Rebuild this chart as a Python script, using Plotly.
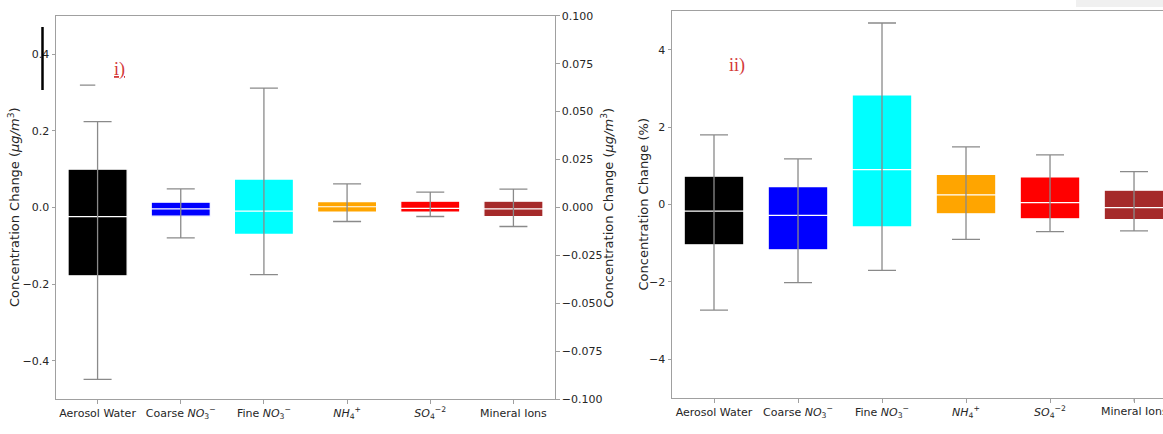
import plotly.graph_objects as go

# ---------------- data ----------------
categories = ["Aerosol Water", "Coarse <i>NO</i><sub>3</sub><sup>−</sup>", "Fine <i>NO</i><sub>3</sub><sup>−</sup>",
              "<i>NH</i><sub>4</sub><sup>+</sup>", "<i>SO</i><sub>4</sub><sup>−2</sup>", "Mineral Ions"]
colors = ["black", "blue", "cyan", "orange", "red", "brown"]

# panel i) absolute change (µg/m3); Aerosol Water on left axis, others on right axis
abs_q1 = [-0.178, -0.0045, -0.0140, -0.0024, -0.0024, -0.0047]
abs_med = [-0.024, -0.0007, -0.0019, 0.0004, -0.0005, -0.0007]
abs_q3 = [0.100, 0.0028, 0.0148, 0.0031, 0.0033, 0.0033]
abs_low = [-0.448, -0.0158, -0.0350, -0.0073, -0.0047, -0.0099]
abs_high = [0.224, 0.0097, 0.0622, 0.0123, 0.0080, 0.0096]
abs_fliers_aw = [0.319]

# panel ii) percent change
pct_q1 = [-1.04, -1.17, -0.58, -0.24, -0.37, -0.39]
pct_med = [-0.17, -0.28, 0.90, 0.25, 0.05, -0.08]
pct_q3 = [0.73, 0.46, 2.83, 0.78, 0.71, 0.37]
pct_low = [-2.73, -2.02, -1.70, -0.90, -0.70, -0.68]
pct_high = [1.80, 1.18, 4.69, 1.49, 1.28, 0.85]

left_ticks = [-0.4, -0.2, 0.0, 0.2, 0.4]
right_ticks = [-0.1, -0.075, -0.05, -0.025, 0.0, 0.025, 0.05, 0.075, 0.1]
pct_ticks = [-4, -2, 0, 2, 4]

ylabel_abs = "Concentration Change (<i>μg/m</i><sup>3</sup>)"
ylabel_pct = "Concentration Change (%)"

# ---------------- style ----------------
W, H = 1163, 434
AX = "#a0a0a0"
WH = "#8a8a8a"
FONT = "DejaVu Sans"
TXT = "#262626"
BOXW = 0.71
RED = "#d43a3a"

XDOM1 = [56 / W, 555 / W]
XDOM2 = [672 / W, 1.0]
XR1 = [-0.5, 5.5]
XR2 = [-0.5, 5.345]
YDOM1 = [1 - 399.3 / H, 1 - 15.7 / H]
YDOM2 = [1 - 398 / H, 1 - 11 / H]

fig = go.Figure()


def add_box(i, q1, med, q3, lo, hi, xa, ya):
    fig.add_trace(go.Scatter(
        x=[i], y=[med], mode="markers", xaxis=xa, yaxis=ya,
        marker=dict(size=1, color="rgba(0,0,0,0)"), hoverinfo="skip",
        error_y=dict(type="data", symmetric=False, array=[hi - med], arrayminus=[med - lo],
                     color=WH, thickness=1.3, width=14)))
    fig.add_trace(go.Box(
        x=[i], q1=[q1], median=[med], q3=[q3], lowerfence=[q1], upperfence=[q3],
        xaxis=xa, yaxis=ya, width=BOXW, whiskerwidth=0,
        fillcolor=colors[i], line=dict(color="white", width=1.2), hoverinfo="skip"))


for i in range(len(categories)):
    ya = "y" if i == 0 else "y2"
    add_box(i, abs_q1[i], abs_med[i], abs_q3[i], abs_low[i], abs_high[i], "x", ya)
    add_box(i, pct_q1[i], pct_med[i], pct_q3[i], pct_low[i], pct_high[i], "x2", "y3")

fig.add_trace(go.Scatter(
    x=[-0.12] * len(abs_fliers_aw), y=abs_fliers_aw, mode="markers", xaxis="x", yaxis="y",
    marker=dict(symbol="line-ew", size=11, line=dict(color=WH, width=1.3)), hoverinfo="skip"))

tickfont = dict(family=FONT, size=11, color=TXT)
common_x = dict(tickmode="array", tickvals=list(range(6)), ticktext=categories,
                ticks="outside", ticklen=3.5, tickcolor=AX, showline=True, linecolor=AX,
                linewidth=1, showgrid=False, zeroline=False, tickfont=tickfont, automargin=False)
common_y = dict(ticks="outside", ticklen=3.5, tickcolor=AX, showline=True, linecolor=AX,
                linewidth=1, showgrid=False, zeroline=False, tickfont=tickfont, automargin=False)


def x2_paper(v):
    return XDOM2[0] + (v - XR2[0]) / (XR2[1] - XR2[0]) * (XDOM2[1] - XDOM2[0])


# last category of panel ii lies beyond the visible range edge: label it in paper coords
last_x = x2_paper(len(categories) - 1)
ymid1 = (YDOM1[0] + YDOM1[1]) / 2
ymid2 = (YDOM2[0] + YDOM2[1]) / 2
title_font = dict(family=FONT, size=13, color=TXT)

fig.update_layout(
    width=W, height=H, margin=dict(l=0, r=0, t=0, b=0),
    paper_bgcolor="white", plot_bgcolor="white", showlegend=False,
    font=dict(family=FONT, size=11, color=TXT),
    xaxis=dict(domain=XDOM1, range=XR1, mirror=True, anchor="y", **common_x),
    yaxis=dict(domain=YDOM1, range=[-0.5, 0.5], anchor="x", tickvals=left_ticks,
               ticktext=[f"{v:.1f}".replace("-", "−") for v in left_ticks], **common_y),
    yaxis2=dict(range=[-0.1, 0.1], anchor="x", overlaying="y", side="right", tickvals=right_ticks,
                ticktext=[f"{v:.3f}".replace("-", "−") for v in right_ticks], **common_y),
    xaxis2=dict(domain=XDOM2, range=XR2, mirror=True, anchor="y3", **common_x),
    yaxis3=dict(domain=YDOM2, range=[-5, 5], anchor="x2", tickvals=pct_ticks,
                ticktext=[str(v).replace("-", "−") for v in pct_ticks], **common_y),
    annotations=[
        dict(text=ylabel_abs, xref="paper", yref="paper", x=14.5 / W, y=ymid1, textangle=-90,
             showarrow=False, font=title_font, xanchor="center", yanchor="middle"),
        dict(text=ylabel_abs, xref="paper", yref="paper", x=608 / W, y=ymid1, textangle=-90,
             showarrow=False, font=title_font, xanchor="center", yanchor="middle"),
        dict(text=ylabel_pct, xref="paper", yref="paper", x=643 / W, y=ymid2, textangle=-90,
             showarrow=False, font=title_font, xanchor="center", yanchor="middle"),
        dict(text=categories[-1], xref="paper", yref="paper", x=last_x, y=YDOM2[0] - 5 / H,
             showarrow=False, font=tickfont, xanchor="center", yanchor="top"),
        dict(text="<u>i)</u>", xref="paper", yref="paper", x=112 / W, y=1 - 57 / H,
             showarrow=False, font=dict(family="Liberation Serif", size=18, color=RED)),
        dict(text="ii)", xref="paper", yref="paper", x=737 / W, y=1 - 53 / H,
             showarrow=False, font=dict(family="Liberation Serif", size=18, color=RED)),
    ],
    shapes=[
        dict(type="line", xref="paper", yref="paper", x0=last_x, x1=last_x,
             y0=YDOM2[0], y1=YDOM2[0] - 3.5 / H, line=dict(color=AX, width=1)),
        dict(type="line", xref="paper", yref="paper", x0=42.5 / W, x1=42.5 / W,
             y0=1 - 27 / H, y1=1 - 90 / H, line=dict(color="black", width=2.5)),
        dict(type="rect", xref="paper", yref="paper", x0=1076 / W, x1=1.0,
             y0=1 - 7 / H, y1=1.0, fillcolor="#f0f0f0", line=dict(width=0)),
    ],
)

fig.write_html("out.html")
